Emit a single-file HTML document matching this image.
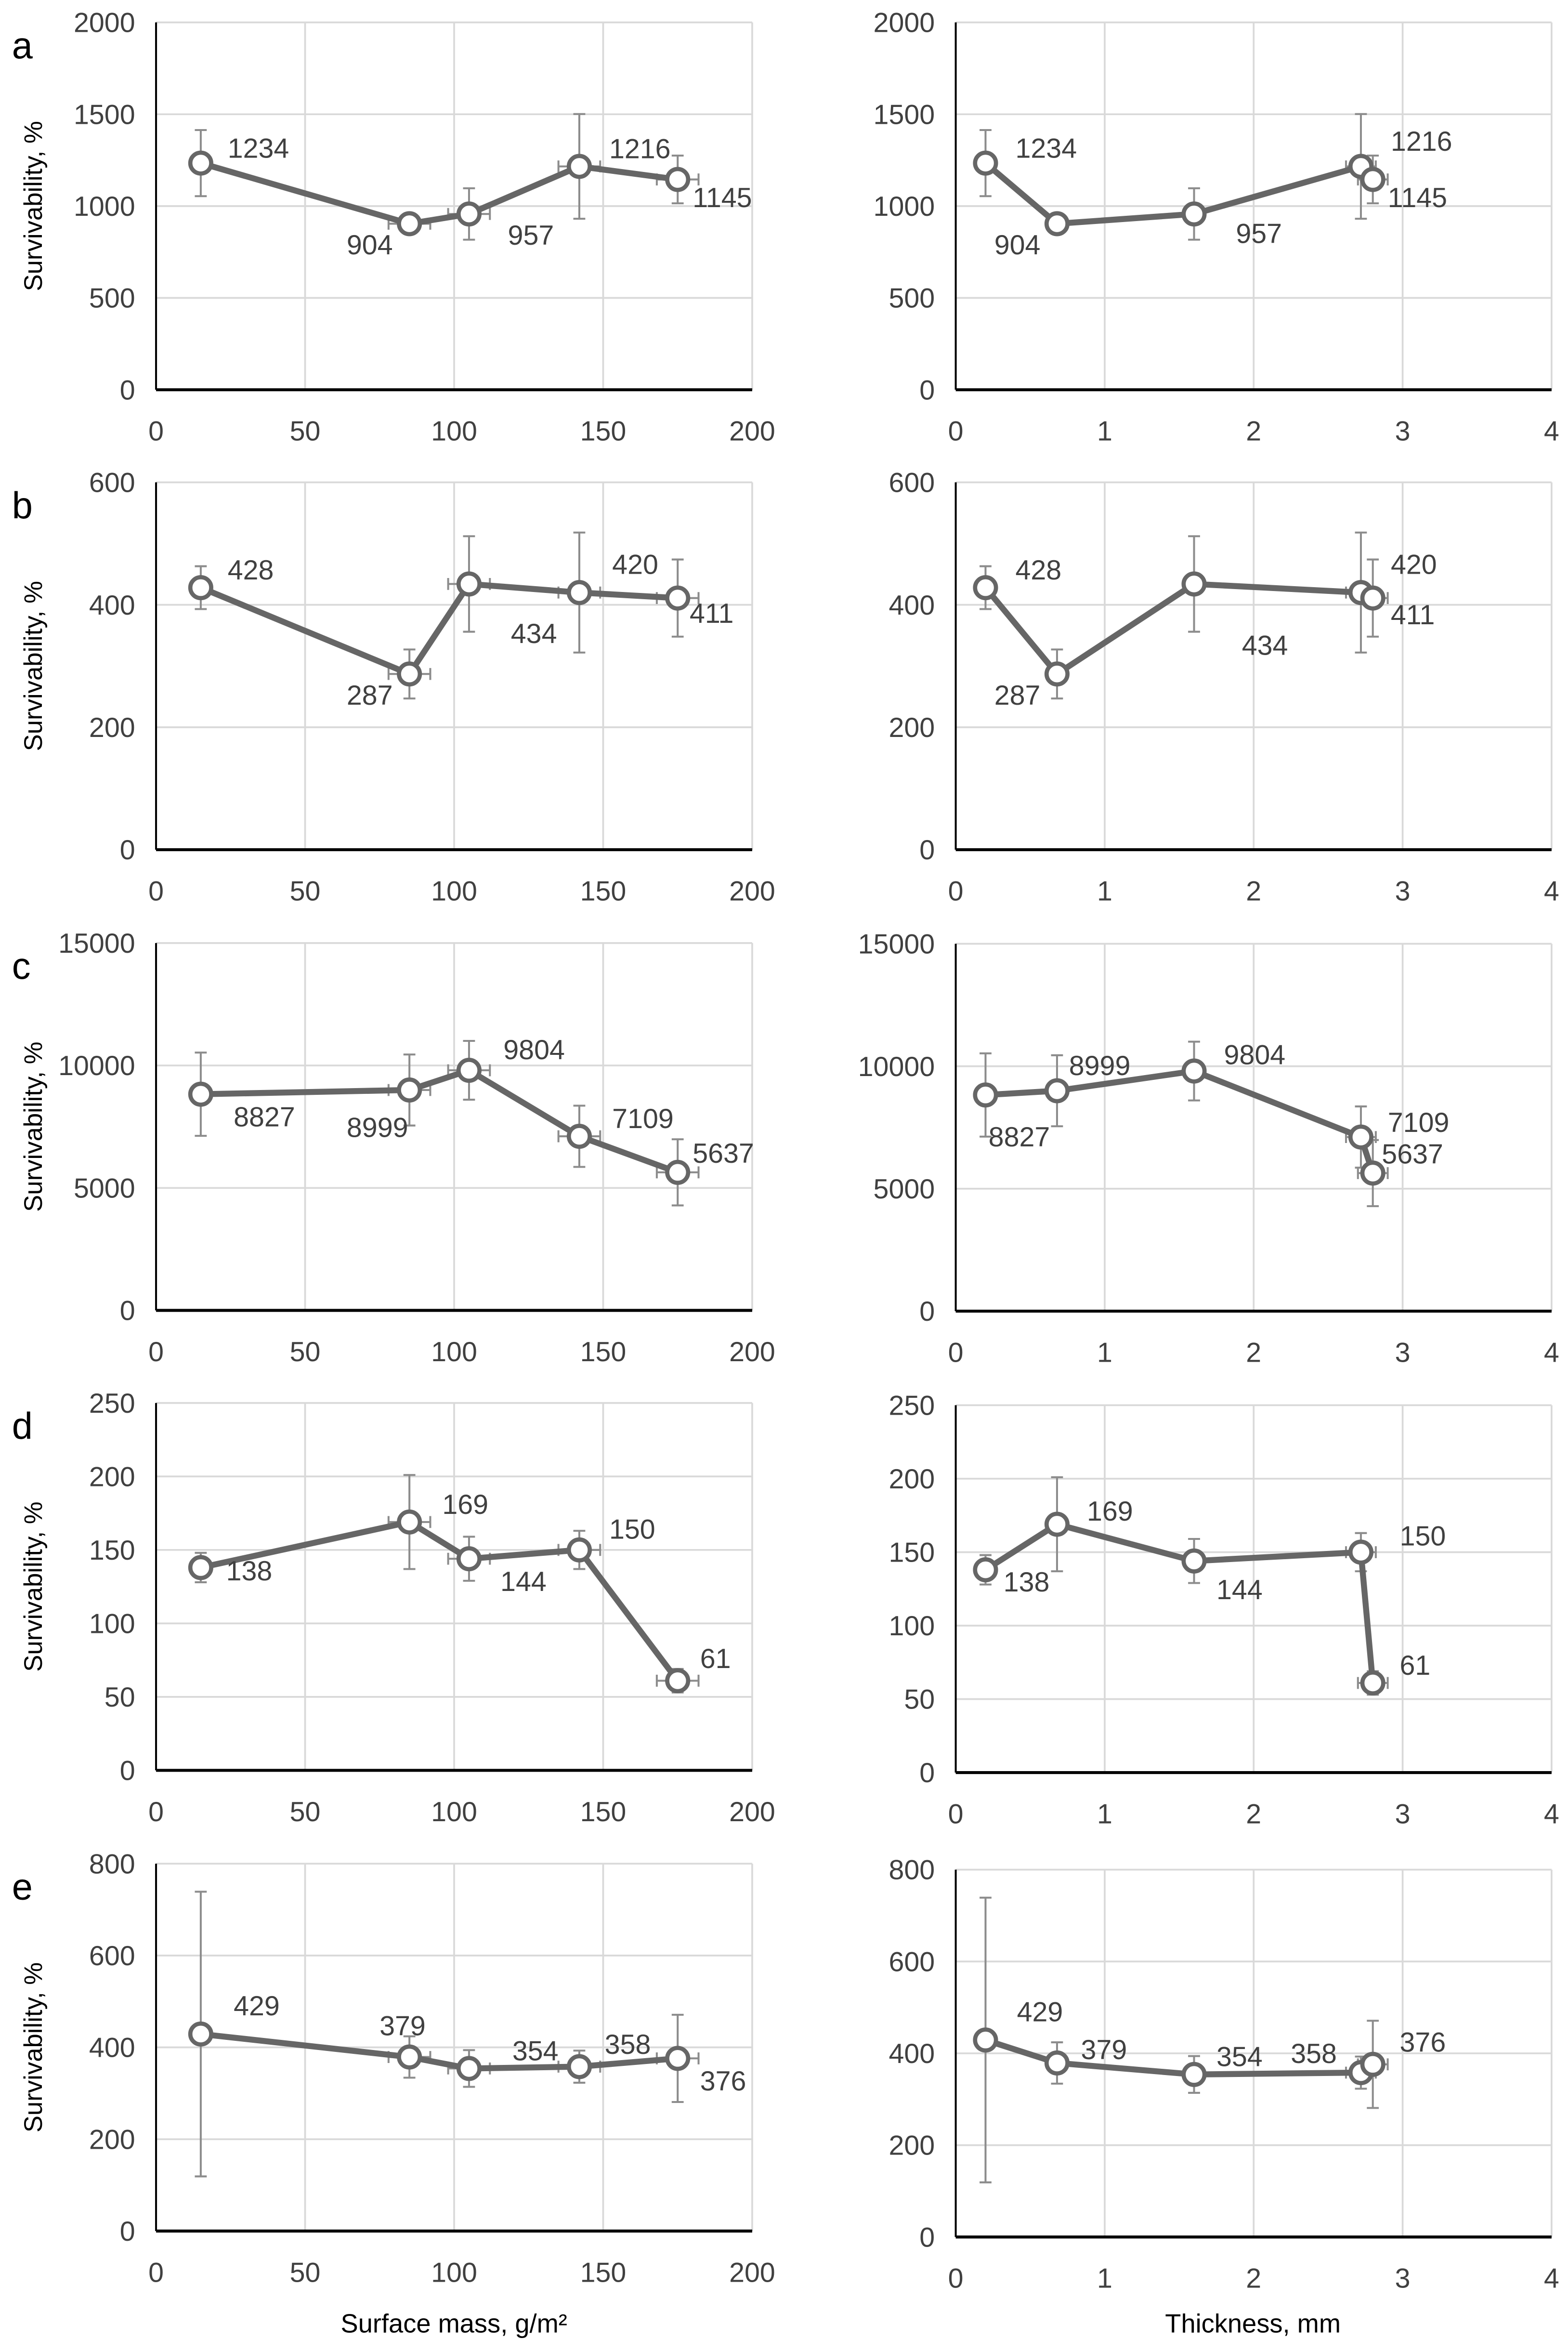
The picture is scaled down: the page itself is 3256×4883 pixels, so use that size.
<!DOCTYPE html>
<html><head><meta charset="utf-8"><style>
html,body{margin:0;padding:0;background:#fff}
svg{display:block}
text{font-family:"Liberation Sans",sans-serif}
</style></head><body>
<svg id="fig" width="3256" height="4883" viewBox="0 0 1050 1575" preserveAspectRatio="none" xmlns="http://www.w3.org/2000/svg"></svg>
<script>
const xMass=[15,85,105,142,175];
const xThick=[0.2,0.68,1.6,2.72,2.8];
const massErrX=[0,7,7,7,7];
const thickErrX=[0,0,0.06,0.1,0.1];
const rowLetters=['a','b','c','d','e'];
const yMaxes=[2000,600,15000,250,800];
const ySteps=[500,200,5000,50,200];
const valsA=[1234,904,957,1216,1145];
const valsB=[428,287,434,420,411];
const valsC=[8827,8999,9804,7109,5637];
const valsD=[138,169,144,150,61];
const valsE=[429,379,354,358,376];
const errA=[180,20,140,285,130];
const errB=[35,40,78,98,63];
const errC=[1700,1450,1200,1250,1350];
const errD=[10,32,15,13,8];
const errE=[310,45,40,35,95];
const massTicks=[0,50,100,150,200];
const thickTicks=[0,1,2,3,4];
const rowVals=[valsA,valsB,valsC,valsD,valsE];
const rowErrs=[errA,errB,errC,errD,errE];
// label offsets (layout, preview units)
const offL=[[[18,-10],[-42,14],[26,14],[20,-12],[10,12]],
 [[18,-12],[-42,14],[28,33],[22,-19],[8,10]],
 [[22,15],[-42,25],[23,-14],[22,-12],[10,-13]],
 [[17,2],[22,-12],[21,15],[20,-14],[15,-15]],
 [[22,-19],[-20,-21],[29,-12],[17,-15],[15,15]]];
const offR=[[[20,-10],[-42,14],[28,13],[20,-17],[10,12]],
 [[20,-12],[-42,14],[32,41],[20,-19],[12,11]],
 [[2,28],[8,-17],[20,-11],[18,-10],[6,-13]],
 [[12,8],[20,-9],[15,19],[26,-11],[18,-12]],
 [[21,-19],[16,-9],[15,-12],[-47,-13],[18,-15]]];

const svg=document.getElementById('fig');
const NS='http://www.w3.org/2000/svg';
function mk(tag,attrs,parent){const e=document.createElementNS(NS,tag);for(const k in attrs)e.setAttribute(k,attrs[k]);(parent||svg).appendChild(e);return e;}

const H=246;
const leftTops=[15,323,631.5,939.5,1248];
const rightTops=[15,323,632,941,1252];
const FS=18.5;

function panel(r,side){
  const isL=side==='L';
  const x0=isL?104.5:640, x1=isL?503.7:1039;
  const top=isL?leftTops[r]:rightTops[r], bot=top+H;
  const xs=isL?xMass:xThick, xErr=isL?massErrX:thickErrX, xTicks=isL?massTicks:thickTicks;
  const xMax=isL?200:4, yMax=yMaxes[r];
  const sx=v=>x0+v/xMax*(x1-x0);
  const sy=v=>bot-v/yMax*H;
  const g=mk('g',{});
  
  
  for(const t of xTicks){ if(t===0)continue;
    const l=mk('line',{x1:sx(t),x2:sx(t),y1:top,y2:bot,stroke:'#d9d9d9','stroke-width':1.2},g);
    
    
  }
  for(let v=ySteps[r];v<=yMax;v+=ySteps[r]){
    const l=mk('line',{x1:x0,x2:x1,y1:sy(v),y2:sy(v),stroke:'#d9d9d9','stroke-width':1.2},g);
    
    
  }
  for(let v=0;v<=yMax;v+=ySteps[r]){
    const t=mk('text',{x:x0-14,y:sy(v)+6.5,'text-anchor':'end','font-size':FS,fill:'#404040'},g);
    t.textContent=v;
    
    
  }
  for(const v of xTicks){
    const t=mk('text',{x:sx(v),y:bot+34,'text-anchor':'middle','font-size':FS,fill:'#404040'},g);
    t.textContent=v;
    
    
  }
  const ya=mk('line',{x1:x0,x2:x0,y1:top,y2:bot,stroke:'#000','stroke-width':1.3},g);
  
  
  const xa=mk('line',{x1:x0,x2:x1,y1:bot,y2:bot,stroke:'#000','stroke-width':2},g);
  
  
  const vals=rowVals[r], errs=rowErrs[r];
  for(let i=0;i<vals.length;i++){
    const cx=sx(xs[i]), cy=sy(vals[i]);
    const eb=mk('path',{d:`M${cx},${sy(vals[i]+errs[i])}V${sy(vals[i]-errs[i])}M${cx-4},${sy(vals[i]+errs[i])}h8M${cx-4},${sy(vals[i]-errs[i])}h8`,stroke:'#8c8c8c','stroke-width':1.3,fill:'none'},g);
    
    
    if(xErr[i]>0){
      const a=sx(xs[i]-xErr[i]), b=sx(xs[i]+xErr[i]);
      const hb=mk('path',{d:`M${a},${cy}H${b}M${a},${cy-4}v8M${b},${cy-4}v8`,stroke:'#8c8c8c','stroke-width':1.3,fill:'none'},g);
      
      
    }
  }
  const pts=vals.map((v,i)=>sx(xs[i])+','+sy(v)).join(' ');
  const pl=mk('polyline',{points:pts,fill:'none',stroke:'#666','stroke-width':4,'stroke-linejoin':'round'},g);
  
  
  const offs=isL?offL[r]:offR[r];
  for(let i=0;i<vals.length;i++){
    const cx=sx(xs[i]), cy=sy(vals[i]);
    const c=mk('circle',{cx:cx,cy:cy,r:7,fill:'#fff',stroke:'#666','stroke-width':2.8},g);
    
    
    const t=mk('text',{x:cx+offs[i][0],y:cy+offs[i][1]+6.5,'font-size':FS,fill:'#404040'},g);
    t.textContent=vals[i];
    
    
  }
  if(isL){
    const yt=mk('text',{transform:`translate(28,${top+H/2}) rotate(-90)`,'text-anchor':'middle','font-size':17,fill:'#000'},g);
    yt.textContent='Survivability, %';
    
    
    const lt=mk('text',{x:8,y:top+24,'font-size':25,fill:'#000'},g);
    lt.textContent=rowLetters[r];
    
    
  }
}
for(let r=0;r<5;r++){panel(r,'L');panel(r,'R');}
const t1=mk('text',{x:304,y:1562,'text-anchor':'middle','font-size':17.5,fill:'#000'});
t1.textContent='Surface mass, g/m²';


const t2=mk('text',{x:839,y:1562,'text-anchor':'middle','font-size':17.5,fill:'#000'});
t2.textContent='Thickness, mm';


</script>
</body></html>
